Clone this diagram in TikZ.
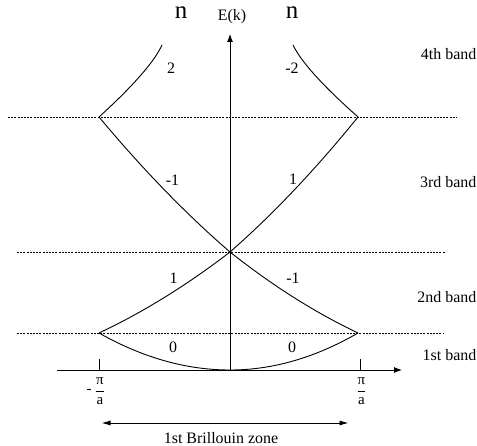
\documentclass[tikz,border=0pt]{standalone}
\usepackage{fontspec}
\setmainfont{Liberation Serif}
\usetikzlibrary{arrows.meta,calc}
\newcommand\qcurve[3]{\draw[curve] (#1) .. controls ($(#1)!2/3!(#2)$) and ($(#3)!2/3!(#2)$) .. (#3);}
\begin{document}
\begin{tikzpicture}[x=1bp,y=-1bp,
  curve/.style={line width=0.9bp, line join=miter},
  dashline/.style={line width=0.7bp, dash pattern=on 2bp off 1.2bp},
  axis/.style={line width=0.9bp},
  lbl/.style={font=\fontsize{16}{19}\selectfont, inner sep=0pt},
  big/.style={font=\fontsize{25}{28}\selectfont, inner sep=0pt},
  frac/.style={font=\fontsize{15}{18}\selectfont, inner sep=0pt}]
\useasboundingbox (0,0) rectangle (477,446);

% key points
\coordinate (L0) at (99,333);
\coordinate (R0) at (358,333);
\coordinate (L1) at (99,117);
\coordinate (R1) at (358,117);
\coordinate (X)  at (230,252);
\coordinate (O)  at (230,370);
\coordinate (LT) at (162,45);
\coordinate (RT) at (293,45);
% quadratic control points
\coordinate (qa) at (164.5,370);
\coordinate (qb) at (294,370);
\coordinate (qc) at (165,302);
\coordinate (qd) at (293,302);
\coordinate (qe) at (165,196);
\coordinate (qf) at (294,196);
\coordinate (qg) at (150.6,70);
\coordinate (qh) at (305,70);

% dashed band edges
\coordinate (d1a) at (8,117);   \coordinate (d1b) at (457,117);
\coordinate (d2a) at (17,252);  \coordinate (d2b) at (445,252);
\coordinate (d3a) at (17,333);  \coordinate (d3b) at (443,333);
\draw[dashline] (d1a) -- (d1b);
\draw[dashline] (d2a) -- (d2b);
\draw[dashline] (d3a) -- (d3b);

% axes
\coordinate (ytop) at (230,34);
\coordinate (xl) at (57,370);
\coordinate (xr) at (402,370);
\draw[axis,-{Latex[length=8bp,width=6bp]}] (O) -- (ytop);
\draw[axis,-{Latex[length=8bp,width=6bp]}] (xl) -- (xr);
\coordinate (t1a) at (99,359);  \coordinate (t1b) at (99,370);
\coordinate (t2a) at (360,359); \coordinate (t2b) at (360,370);
\draw[axis] (t1a) -- (t1b);
\draw[axis] (t2a) -- (t2b);

% bands
\qcurve{L0}{qa}{O}
\qcurve{O}{qb}{R0}
\qcurve{L0}{qc}{X}
\qcurve{X}{qd}{R0}
\qcurve{X}{qe}{L1}
\qcurve{X}{qf}{R1}
\qcurve{L1}{qg}{LT}
\qcurve{R1}{qh}{RT}

% labels
\node[big] (nl) at (181,13) {n};
\node[big] (nr) at (292,13) {n};
\node[lbl] (ek) at (232,17) {E(k)};
\node[lbl] (b4l) at (171,68) {2};
\node[lbl] (b4r) at (292,68) {-2};
\node[lbl] (b3l) at (172.5,180) {-1};
\node[lbl] (b3r) at (293,179) {1};
\node[lbl] (b2l) at (173.5,278) {1};
\node[lbl] (b2r) at (293,278) {-1};
\node[lbl] (b1l) at (173,347) {0};
\node[lbl] (b1r) at (292,347) {0};

\node[lbl,anchor=base east] (n4) at (476.5,60) {4th band};
\node[lbl,anchor=base east] (n3) at (476.5,188) {3rd band};
\node[lbl,anchor=base east] (n2) at (476.5,302) {2nd band};
\node[lbl,anchor=base east] (n1) at (476.5,360) {1st band};

\node[frac] (fl) at (100,391) {$\displaystyle\frac{\hbox{π}}{\hbox{a}}$};
\node[frac] (ml) at (89,391) {-};
\node[frac] (fr) at (361.5,391) {$\displaystyle\frac{\hbox{π}}{\hbox{a}}$};

% Brillouin zone
\coordinate (bza) at (101.5,423);
\coordinate (bzb) at (348.5,423);
\draw[axis,{Latex[length=9bp,width=5bp]}-{Latex[length=9bp,width=5bp]}] (bza) -- (bzb);
\node[lbl,anchor=base] (bz) at (221,443) {1st Brillouin zone};
\end{tikzpicture}
\end{document}
